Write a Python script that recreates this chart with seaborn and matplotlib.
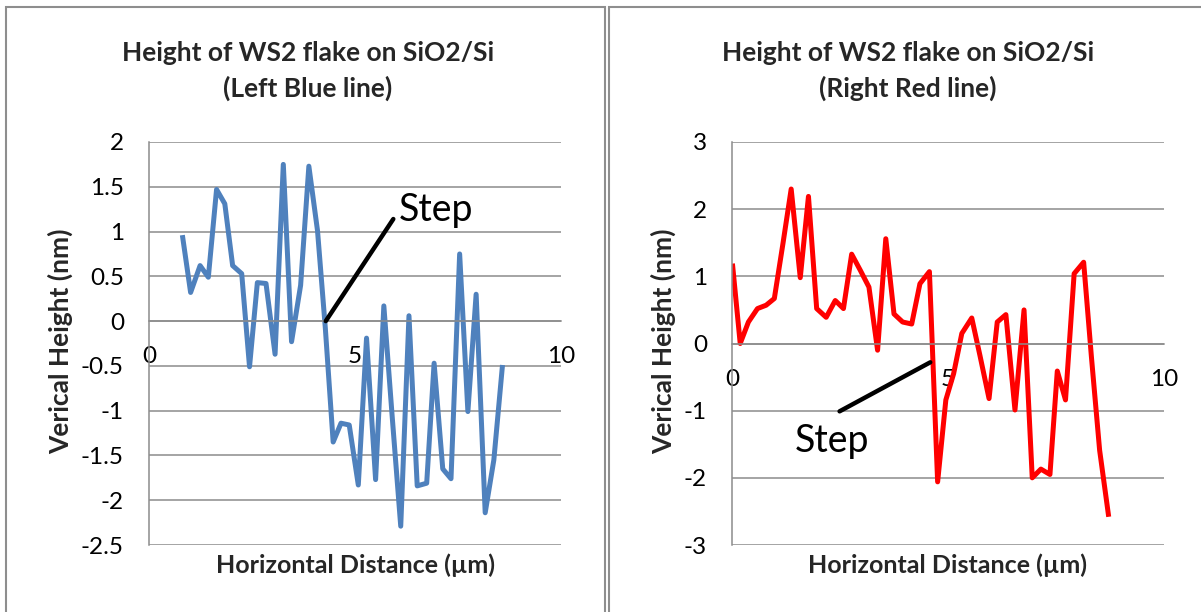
import matplotlib
matplotlib.use("Agg")
import matplotlib.pyplot as plt
import seaborn as sns
import pandas as pd
from matplotlib.patches import Rectangle

# ---------------- data ----------------
left_x = [0.81, 1.01, 1.24, 1.44, 1.64, 1.84, 2.03, 2.25, 2.44, 2.63, 2.84, 3.06, 3.26,
          3.46, 3.68, 3.88, 4.09, 4.28, 4.47, 4.66, 4.86, 5.08, 5.28, 5.50, 5.70, 5.90,
          6.11, 6.31, 6.51, 6.74, 6.92, 7.13, 7.33, 7.54, 7.74, 7.94, 8.16, 8.37, 8.58]
left_y = [0.96, 0.32, 0.62, 0.49, 1.47, 1.31, 0.62, 0.53, -0.51, 0.43, 0.42, -0.37, 1.75,
          -0.23, 0.40, 1.73, 1.01, -0.08, -1.35, -1.14, -1.16, -1.83, -0.19, -1.77, 0.17, -1.05,
          -2.29, 0.06, -1.84, -1.81, -0.47, -1.65, -1.76, 0.75, -1.01, 0.30, -2.14, -1.55, -0.49]

right_x = [0.01, 0.19, 0.38, 0.59, 0.79, 0.98, 1.18, 1.37, 1.58, 1.77, 1.96, 2.18, 2.39,
           2.58, 2.77, 2.97, 3.17, 3.37, 3.56, 3.75, 3.95, 4.16, 4.35, 4.57, 4.76, 4.95,
           5.13, 5.32, 5.55, 5.74, 5.95, 6.14, 6.34, 6.55, 6.76, 6.95, 7.15, 7.36, 7.53,
           7.72, 7.92, 8.14, 8.32, 8.51, 8.72]
right_y = [1.19, 0.00, 0.32, 0.52, 0.57, 0.67, 1.49, 2.30, 0.98, 2.19, 0.52, 0.39, 0.64,
           0.52, 1.33, 1.09, 0.84, -0.10, 1.56, 0.44, 0.32, 0.29, 0.89, 1.07, -2.06, -0.84,
           -0.45, 0.15, 0.38, -0.18, -0.82, 0.32, 0.43, -0.99, 0.50, -2.00, -1.87, -1.95, -0.41,
           -0.84, 1.04, 1.21, -0.20, -1.59, -2.58]

left_yticks = [2, 1.5, 1, 0.5, 0, -0.5, -1, -1.5, -2, -2.5]
right_yticks = [3, 2, 1, 0, -1, -2, -3]
xticks = [0, 5, 10]

titles = ["Height of WS2 flake on SiO2/Si\n(Left Blue line)",
          "Height of WS2 flake on SiO2/Si\n(Right Red line)"]
xlabel = "Horizontal Distance (\u00b5m)"
ylabel = "Verical Height (nm)"
step_label = "Step"
# annotation pointer: (tip x, tip y, text x, text y, line end x, line end y)
left_step = (4.29, 0.0, 6.07, 1.12, 5.93, 1.14)
right_step = (4.59, -0.28, 1.46, -1.62, 2.49, -1.01)

# ---------------- style ----------------
sns.set_style("white")
plt.rcParams['font.family'] = ['Lato', 'DejaVu Sans']

W, H = 1201, 612
fig = plt.figure(figsize=(W / 100, H / 100), dpi=100)
fig.patch.set_facecolor("white")

GRID = "#8c8c8c"

# chart area borders
fig.patches.append(Rectangle((6 / W, -0.05), (605 - 6) / W, 1.05 - 7 / H,
                             transform=fig.transFigure, fill=False,
                             edgecolor="#8e8e8e", lw=1.5))
fig.patches.append(Rectangle((609 / W, -0.05), 0.5, 1.05 - 7 / H,
                             transform=fig.transFigure, fill=False,
                             edgecolor="#8e8e8e", lw=1.5))


def make_axes(rect_px, xs, ys, color, ylim, yticks, ytick_fmt, title, title_x,
              ylab_x, step):
    x0, y0, x1, y1 = rect_px
    ax = fig.add_axes([x0 / W, 1 - y1 / H, (x1 - x0) / W, (y1 - y0) / H])
    df = pd.DataFrame({"x": xs, "y": ys})
    sns.lineplot(data=df, x="x", y="y", ax=ax, color=color, lw=3.6, sort=False,
                 solid_joinstyle="round", solid_capstyle="butt")
    ax.set_xlim(0, 10)
    ax.set_ylim(*ylim)
    ax.set_yticks(yticks)
    ax.set_yticklabels([ytick_fmt(v) for v in yticks])
    ax.set_xticks(xticks)
    ax.set_xticklabels([str(v) for v in xticks])
    ax.yaxis.grid(True, color=GRID, lw=1.1)
    ax.xaxis.grid(False)
    ax.set_axisbelow(True)
    for s in ("top", "right"):
        ax.spines[s].set_visible(False)
    ax.spines["left"].set_color(GRID)
    ax.spines["left"].set_linewidth(1.1)
    ax.spines["bottom"].set_position(("data", 0))
    ax.spines["bottom"].set_color(GRID)
    ax.spines["bottom"].set_linewidth(1.1)
    ax.tick_params(axis="y", direction="out", length=6, width=1.1, color=GRID,
                   labelsize=17.5, pad=12, labelcolor="black")
    ax.tick_params(axis="x", direction="out", length=6, width=1.1, color=GRID,
                   labelsize=17.5, pad=12, labelcolor="black")
    ax.set_facecolor("none")

    ax.set_title(title, x=title_x, y=(545 - 97) / 403, va="baseline", pad=0,
                 fontsize=19, fontweight="bold", linespacing=1.5)
    ax.set_xlabel(xlabel, fontsize=18, fontweight="bold")
    ax.xaxis.set_label_coords(0.5, -0.02)
    ax.set_ylabel(ylabel, fontsize=19, fontweight="bold", va="center",
                  ha="center", rotation=90, rotation_mode="anchor")
    ax.yaxis.set_label_coords(ylab_x, 0.505)

    tx, ty, sx, sy, lx, ly = step
    ax.annotate("", xy=(tx, ty), xytext=(lx, ly),
                arrowprops=dict(arrowstyle="-", color="black", lw=3.2,
                                shrinkA=0, shrinkB=0))
    ax.text(sx, sy, step_label, fontsize=27, ha="left", va="baseline",
            color="black")
    return ax


def fmt(v):
    return "{:g}".format(v)


make_axes((149, 142, 561, 545), left_x, left_y, "#4f81bd", (-2.5, 2),
          left_yticks, fmt, titles[0], 0.386, (60 - 149) / 412, left_step)
make_axes((732, 142, 1164, 545), right_x, right_y, "#ff0000", (-3, 3),
          right_yticks, fmt, titles[1], 0.407, (663 - 732) / 432, right_step)

fig.savefig("out.png", dpi=100, facecolor="white")
